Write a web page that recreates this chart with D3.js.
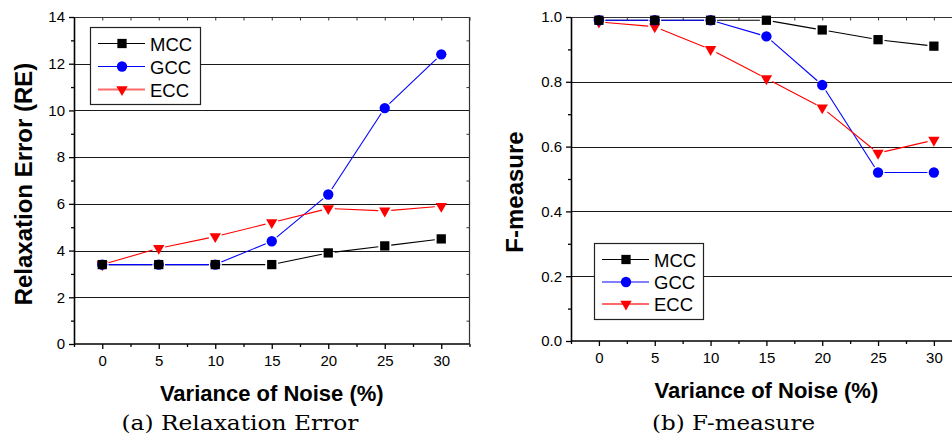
<!DOCTYPE html>
<html>
<head>
<meta charset="utf-8">
<script src="https://cdn.jsdelivr.net/npm/d3@7"></script>
<style>
  body { margin: 0; background: #fff; }
  svg { display: block; font-family: "Liberation Sans", Arial, sans-serif; }
</style>
</head>
<body>
<svg id="chart" width="952" height="437"></svg>
<script>
// noise levels (x) shared by both panels
const noise = [0, 5, 10, 15, 20, 25, 30];
const seriesNames = ["MCC", "GCC", "ECC"];

// (a) relaxation error
const reMCC = [3.4, 3.4, 3.4, 3.4, 3.9, 4.2, 4.5];
const reGCC = [3.4, 3.4, 3.4, 4.4, 6.4, 10.1, 12.4];
const reECC = [3.4, 4.1, 4.6, 5.2, 5.8, 5.7, 5.9];

// (b) f-measure
const fmMCC = [0.99, 0.99, 0.99, 0.99, 0.96, 0.93, 0.91];
const fmGCC = [0.99, 0.99, 0.99, 0.94, 0.79, 0.52, 0.52];
const fmECC = [0.985, 0.97, 0.90, 0.81, 0.72, 0.58, 0.62];

const xTicks = [0, 5, 10, 15, 20, 25, 30];
const reTicks = [0, 2, 4, 6, 8, 10, 12, 14];
const fmTicks = [0, 0.2, 0.4, 0.6, 0.8, 1.0];

const svg = d3.select("#chart");

const style = {
    MCC: {color: "#000", legendColor: "#000", symbol: d3.symbolSquare, size: 86, rot: 0},
    GCC: {color: "#0000ff", legendColor: "#0000ff", symbol: d3.symbolCircle, size: 84, rot: 0},
    ECC: {color: "#ff0000", legendColor: "#ff6a6a", symbol: d3.symbolTriangle, size: 56, rot: 180}
};

function panel(cfg) {
    const g = svg.append("g");
    const x = d3.scaleLinear().domain([-2.5, 32.5]).range(cfg.xRange);
    const y = d3.scaleLinear().domain(cfg.yDomain).range(cfg.yRange);
    const [x0, x1] = cfg.xRange;
    const [yb, yt] = cfg.yRange;

    // horizontal grid lines
    g.append("g")
        .selectAll("line")
        .data(cfg.grid)
        .join("line")
        .attr("x1", x0).attr("x2", x1)
        .attr("y1", d => Math.round(y(d)) + 0.5)
        .attr("y2", d => Math.round(y(d)) + 0.5)
        .attr("stroke", "#1a1a1a")
        .attr("stroke-width", 1);

    // frame top + right
    g.append("line")
        .attr("x1", x0).attr("x2", x1)
        .attr("y1", Math.round(yt) + 0.5).attr("y2", Math.round(yt) + 0.5)
        .attr("stroke", "#333").attr("stroke-width", 1.2);
    g.append("line")
        .attr("x1", x1).attr("x2", x1)
        .attr("y1", yt).attr("y2", yb)
        .attr("stroke", "#333").attr("stroke-width", 1.2);

    // top inward ticks
    g.append("g")
        .attr("transform", `translate(0,${Math.round(yt) + 0.5})`)
        .call(d3.axisBottom(x).tickValues(d3.range(-2.5, 33, 2.5)).tickSize(3).tickFormat(""))
        .call(a => a.select(".domain").remove())
        .selectAll("line").attr("stroke", "#333");

    // right inward ticks
    g.append("g")
        .attr("transform", `translate(${x1},0)`)
        .call(d3.axisLeft(y).tickValues(cfg.minor).tickSize(3).tickFormat(""))
        .call(a => a.select(".domain").remove())
        .selectAll("line").attr("stroke", "#333");

    // bottom axis, minor then major
    g.append("g")
        .attr("transform", `translate(0,${yb})`)
        .call(d3.axisBottom(x).tickValues(d3.range(-2.5, 33, 5)).tickSize(3).tickFormat(""))
        .call(a => a.select(".domain").remove())
        .selectAll("line").attr("stroke-width", 1.3);
    const bx = g.append("g")
        .attr("transform", `translate(0,${yb})`)
        .call(d3.axisBottom(x).tickValues(xTicks).tickSize(5).tickPadding(6).tickSizeOuter(0));
    bx.select(".domain").attr("stroke-width", 1.6).attr("d", `M${x0},0H${x1}`);
    bx.selectAll("line").attr("stroke-width", 1.3);
    bx.selectAll("text").attr("font-size", 15).attr("font-family", "Liberation Sans, Arial").attr("fill", "#000");

    // left axis
    g.append("g")
        .attr("transform", `translate(${x0},0)`)
        .call(d3.axisLeft(y).tickValues(cfg.minor).tickSize(3).tickFormat(""))
        .call(a => a.select(".domain").remove())
        .selectAll("line").attr("stroke-width", 1.3);
    const ly = g.append("g")
        .attr("transform", `translate(${x0},0)`)
        .call(d3.axisLeft(y).tickValues(cfg.ticks).tickSize(5).tickPadding(4).tickSizeOuter(0).tickFormat(cfg.fmt));
    ly.select(".domain").attr("stroke-width", 1.6);
    ly.selectAll("line").attr("stroke-width", 1.3);
    ly.selectAll("text").attr("font-size", 15).attr("font-family", "Liberation Sans, Arial").attr("fill", "#000");

    // series lines, broken around markers
    const gap = 6.5;
    seriesNames.forEach((name, si) => {
        const vals = cfg.values[si];
        const segs = d3.pairs(vals.map((v, i) => [x(noise[i]), y(v)]));
        g.append("g")
            .selectAll("line")
            .data(segs)
            .join("line")
            .each(function ([a, b]) {
                const dx = b[0] - a[0], dy = b[1] - a[1];
                const len = Math.hypot(dx, dy);
                const ux = dx / len, uy = dy / len;
                d3.select(this)
                    .attr("x1", a[0] + ux * gap).attr("y1", a[1] + uy * gap)
                    .attr("x2", b[0] - ux * gap).attr("y2", b[1] - uy * gap);
            })
            .attr("stroke", style[name].color)
            .attr("stroke-width", 1.1);
    });

    // markers: ECC under GCC under MCC
    ["ECC", "GCC", "MCC"].forEach(name => {
        const si = seriesNames.indexOf(name);
        const st = style[name];
        g.append("g")
            .selectAll("path")
            .data(cfg.values[si])
            .join("path")
            .attr("d", d3.symbol(st.symbol, st.size))
            .attr("transform", (d, i) => `translate(${x(noise[i])},${y(d)}) rotate(${st.rot})`)
            .attr("fill", st.color);
    });

    // legend
    const lg = g.append("g");
    const [lx, ly0, lw, lh] = cfg.legendBox;
    lg.append("rect")
        .attr("x", lx + 0.5).attr("y", ly0 + 0.5)
        .attr("width", lw).attr("height", lh)
        .attr("fill", "#fff").attr("stroke", "#222").attr("stroke-width", 1.2);
    seriesNames.forEach((name, i) => {
        const st = style[name];
        const cy = cfg.legendRows[i];
        lg.append("line")
            .attr("x1", lx + 8).attr("x2", lx + 55)
            .attr("y1", cy).attr("y2", cy)
            .attr("stroke", st.legendColor).attr("stroke-width", name === "ECC" ? 1.8 : 1.2);
        lg.append("path")
            .attr("d", d3.symbol(st.symbol, st.size))
            .attr("transform", `translate(${lx + 32},${cy}) rotate(${st.rot})`)
            .attr("fill", st.color);
        lg.append("text")
            .attr("x", lx + 60).attr("y", cy + 7)
            .attr("font-size", 18.5)
            .text(name);
    });

    // axis titles
    g.append("text")
        .attr("transform", `translate(${cfg.yTitlePos[0]},${cfg.yTitlePos[1]}) rotate(-90)`)
        .attr("text-anchor", "middle")
        .attr("font-size", 24).attr("font-weight", "bold")
        .text(cfg.yTitle);
    g.append("text")
        .attr("x", (x0 + x1) / 2).attr("y", cfg.xTitleY)
        .attr("text-anchor", "middle")
        .attr("font-size", 22).attr("font-weight", "bold")
        .text("Variance of Noise (%)");

    // caption
    g.append("text")
        .attr("x", cfg.captionX).attr("y", 430)
        .attr("text-anchor", "middle")
        .attr("font-family", "DejaVu Serif, Liberation Serif, serif")
        .attr("font-size", 21)
        .attr("textLength", cfg.captionW)
        .attr("lengthAdjust", "spacingAndGlyphs")
        .text(cfg.caption);
}

panel({
    xRange: [74, 469.5],
    yDomain: [0, 14],
    yRange: [344, 17],
    ticks: reTicks,
    minor: d3.range(1, 14, 2),
    grid: [2, 4, 6, 8, 10, 12],
    fmt: d3.format("d"),
    values: [reMCC, reGCC, reECC],
    legendBox: [90, 27, 110, 77],
    legendRows: [43.5, 66.5, 89.5],
    yTitle: "Relaxation Error (RE)",
    yTitlePos: [32, 184],
    xTitleY: 401,
    caption: "(a) Relaxation Error",
    captionX: 240,
    captionW: 237
});

panel({
    xRange: [571, 961.8],
    yDomain: [0, 1],
    yRange: [341, 17],
    ticks: fmTicks,
    minor: d3.range(0.1, 1, 0.2),
    grid: [0.2, 0.4, 0.6, 0.8],
    fmt: d3.format(".1f"),
    values: [fmMCC, fmGCC, fmECC],
    legendBox: [594, 243, 109, 76],
    legendRows: [259.5, 282, 304],
    yTitle: "F-measure",
    yTitlePos: [523, 192],
    xTitleY: 398,
    caption: "(b) F-measure",
    captionX: 733.5,
    captionW: 163
});
</script>
</body>
</html>
